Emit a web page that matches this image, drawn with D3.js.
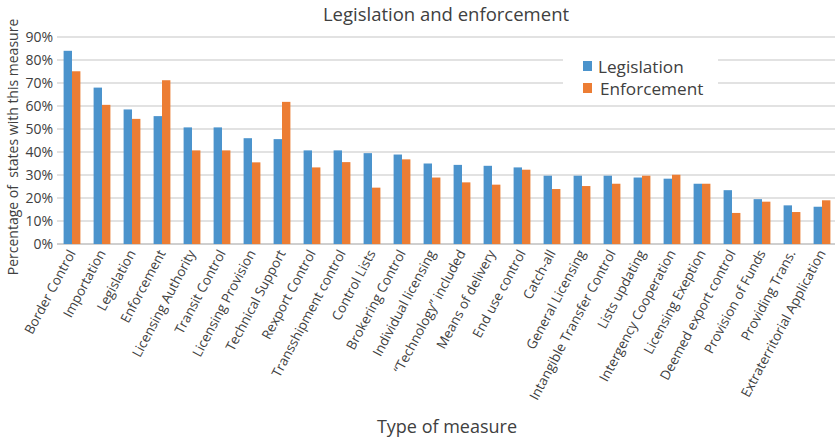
<!DOCTYPE html>
<html>
<head>
<meta charset="utf-8">
<script src="https://cdn.jsdelivr.net/npm/d3@7"></script>
<style>
  body { margin: 0; background: #fff; }
  text { font-family: "Open Sans", sans-serif; fill: #404040; }
</style>
</head>
<body>
<div id="chart"></div>
<script>
// Categories and values (percent)
const measures = ["Border Control", "Importation", "Legislation", "Enforcement", "Licensing Authority",
  "Transit Control", "Licensing Provision", "Technical Support", "Rexport Control", "Transshipment control",
  "Control Lists", "Brokering Control", "Individual licensing", "\u201CTechnology\u201D included", "Means of delivery",
  "End use control", "Catch-all", "General Licensing", "Intangible Transfer Control", "Lists updating",
  "Intergency Cooperation", "Licensing Exeption", "Deemed export control", "Provision of Funds", "Providing Trans.",
  "Extraterritorial Application"];
const legislation = [84, 68, 58.5, 55.6, 50.7, 50.7, 46, 45.6, 40.7, 40.7, 39.5, 38.9, 35, 34.4, 34,
  33.3, 29.7, 29.7, 29.7, 28.9, 28.4, 26.2, 23.4, 19.5, 16.8, 16.2];
const enforcement = [75.1, 60.5, 54.4, 71.2, 40.7, 40.7, 35.5, 61.8, 33.3, 35.6, 24.5, 36.8, 28.9, 26.8, 25.8,
  32.3, 23.9, 25.2, 26.2, 29.7, 30.1, 26.2, 13.5, 18.4, 13.9, 19];
const yTicks = [0, 10, 20, 30, 40, 50, 60, 70, 80, 90];
const seriesNames = ["Legislation", "Enforcement"];
const colors = ["#4b93cc", "#ec7d34"];

const width = 835, height = 440;
const margin = { top: 37, right: -2, bottom: 196, left: 57 };
const innerWidth = width - margin.left - margin.right;
const innerHeight = height - margin.top - margin.bottom;

const svg = d3.select("#chart").append("svg")
  .attr("width", width).attr("height", height);
const chart = svg.append("g")
  .attr("transform", `translate(${margin.left},${margin.top})`);

const x = d3.scaleBand().domain(measures).range([0, innerWidth]).paddingInner(0.44).paddingOuter(0.22);
const xs = d3.scaleBand().domain(seriesNames).range([0, x.bandwidth()]);
const y = d3.scaleLinear().domain([0, 90]).range([innerHeight, 0]);

// Rejilla horitzontal (tallada on hi ha la llegenda)
const legendGap = [563 - margin.left, 718 - margin.left];
yTicks.forEach(t => {
  const yy = y(t);
  const hidden = (t === 80 || t === 70);
  if (hidden) {
    chart.append("line").attr("x1", 0).attr("x2", legendGap[0]).attr("y1", yy).attr("y2", yy)
      .attr("stroke", "#c6c6c6").attr("stroke-width", 1.2);
    chart.append("line").attr("x1", legendGap[1]).attr("x2", innerWidth).attr("y1", yy).attr("y2", yy)
      .attr("stroke", "#c6c6c6").attr("stroke-width", 1.2);
  } else {
    chart.append("line").attr("x1", 0).attr("x2", innerWidth).attr("y1", yy).attr("y2", yy)
      .attr("stroke", t === 0 ? "#bfbfbf" : "#c6c6c6").attr("stroke-width", t === 0 ? 1.5 : 1.2);
  }
});

// Eix Y
const yAxis = chart.append("g")
  .call(d3.axisLeft(y).tickValues(yTicks).tickFormat(d => d + "%").tickSize(0).tickPadding(4));
yAxis.select(".domain").remove();
yAxis.selectAll("text").style("font-size", "14px").attr("fill", "#404040");

// Barres
const data = measures.map((m, i) => ({ m, vals: [legislation[i], enforcement[i]] }));
const groups = chart.selectAll(".grp").data(data).enter().append("g")
  .attr("transform", d => `translate(${x(d.m)},0)`);
groups.selectAll("rect").data(d => d.vals.map((v, k) => ({ v, k }))).enter().append("rect")
  .attr("x", d => xs(seriesNames[d.k]))
  .attr("width", xs.bandwidth())
  .attr("y", d => y(d.v))
  .attr("height", d => innerHeight - y(d.v))
  .attr("fill", d => colors[d.k]);

// Eix X amb etiquetes girades
const xAxis = chart.append("g")
  .attr("transform", `translate(0,${innerHeight})`)
  .call(d3.axisBottom(x).tickSize(0).tickPadding(0));
xAxis.select(".domain").remove();
xAxis.selectAll("text")
  .style("font-size", "13.4px")
  .attr("fill", "#404040")
  .attr("text-anchor", "end")
  .attr("dy", 0)
  .attr("transform", "translate(4,9) rotate(-62)");

// Títols
svg.append("text").attr("x", 446).attr("y", 21).attr("text-anchor", "middle")
  .style("font-size", "18.5px").text("Legislation and enforcement");
svg.append("text").attr("x", 447).attr("y", 433).attr("text-anchor", "middle")
  .style("font-size", "18px").text("Type of measure");
svg.append("text").attr("transform", "translate(18,147) rotate(-90)").attr("text-anchor", "middle")
  .style("font-size", "14px").attr("xml:space", "preserve")
  .text("Percentage of  states with this measure");

// Llegenda
const legend = svg.append("g");
seriesNames.forEach((s, k) => {
  legend.append("rect").attr("x", 583).attr("y", 61 + k * 22).attr("width", 9).attr("height", 10)
    .attr("fill", colors[k]);
  legend.append("text").attr("x", 598 + k * 2).attr("y", 73 + k * 21.5)
    .style("font-size", "17.2px").text(s);
});
</script>
</body>
</html>
